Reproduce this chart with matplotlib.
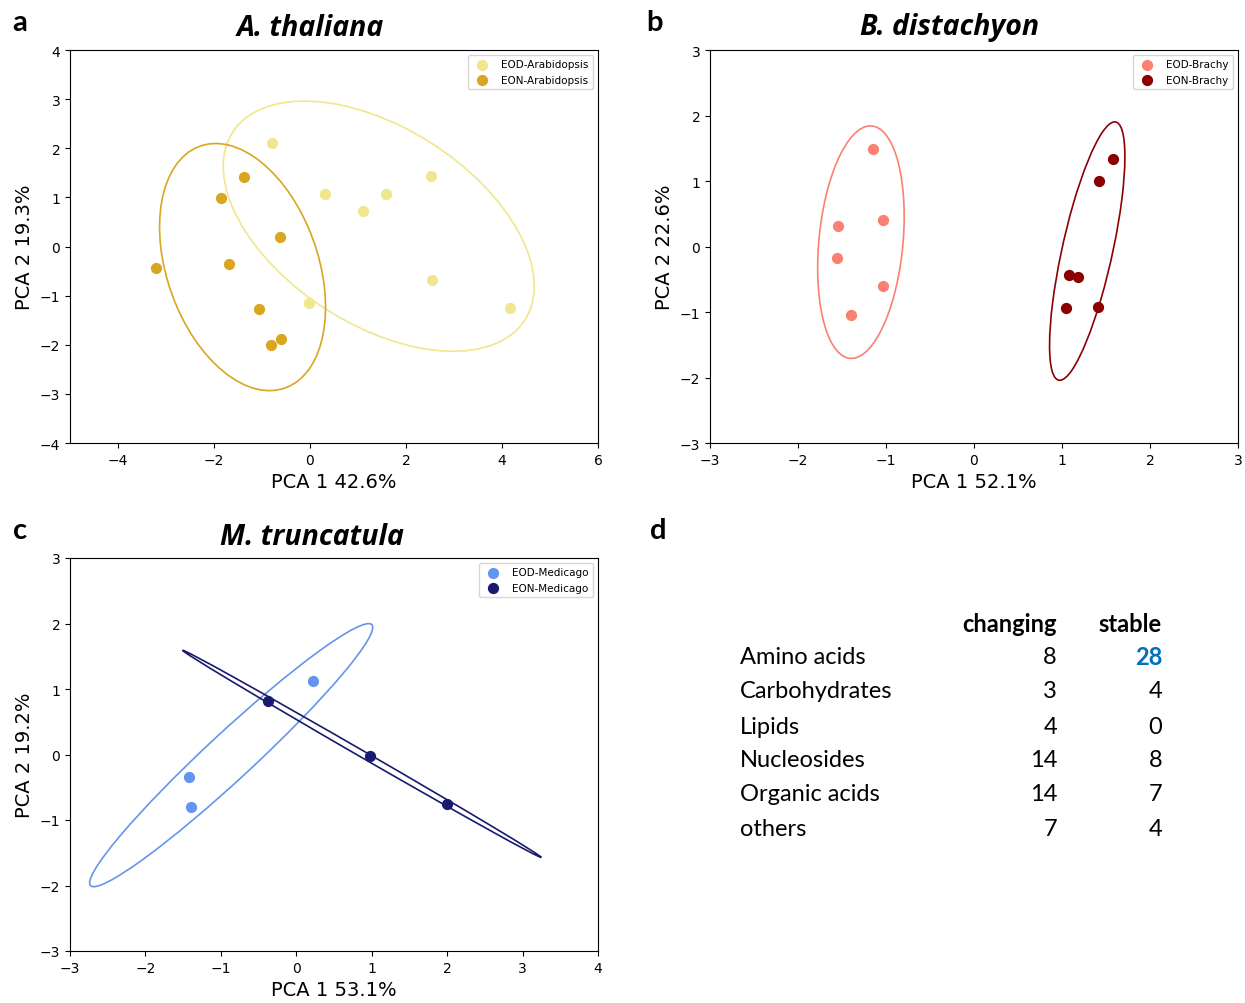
import numpy as np
import matplotlib
matplotlib.use("Agg")
import matplotlib.pyplot as plt
from matplotlib.patches import Ellipse
import matplotlib.transforms as transforms

# ---------------- data ----------------
# A. thaliana
ath_eod_x = [-0.79, 0.32, 1.10, 1.59, 2.53, 2.55, 4.17, -0.02]
ath_eod_y = [2.11, 1.06, 0.73, 1.07, 1.44, -0.69, -1.26, -1.15]
ath_eon_x = [-3.21, -1.85, -1.38, -0.63, -1.68, -1.07, -0.61, -0.81]
ath_eon_y = [-0.44, 0.98, 1.42, 0.19, -0.35, -1.27, -1.88, -2.00]

# B. distachyon
bd_eod_x = [-1.15, -1.54, -1.03, -1.56, -1.03, -1.40]
bd_eod_y = [1.49, 0.32, 0.41, -0.18, -0.60, -1.04]
bd_eon_x = [1.58, 1.42, 1.08, 1.18, 1.05, 1.41]
bd_eon_y = [1.33, 1.00, -0.43, -0.46, -0.94, -0.92]

# M. truncatula
mt_eod_x = [0.22, -1.42, -1.39]
mt_eod_y = [1.12, -0.35, -0.80]
mt_eon_x = [-0.37, 0.98, 2.00]
mt_eon_y = [0.82, -0.03, -0.76]

# labels
titles = ["A. thaliana", "B. distachyon", "M. truncatula"]
xlabels = ["PCA 1 42.6%", "PCA 1 52.1%", "PCA 1 53.1%"]
ylabels = ["PCA 2 19.3%", "PCA 2 22.6%", "PCA 2 19.2%"]
legend_labels = [("EOD-Arabidopsis", "EON-Arabidopsis"),
                 ("EOD-Brachy", "EON-Brachy"),
                 ("EOD-Medicago", "EON-Medicago")]
colors = [("khaki", "goldenrod"), ("salmon", "darkred"),
          ("cornflowerblue", "midnightblue")]

# table
table_cols = ["changing", "stable"]
table_rows = ["Amino acids", "Carbohydrates", "Lipids", "Nucleosides",
              "Organic acids", "others"]
changing = [8, 3, 4, 14, 14, 7]
stable = [28, 4, 0, 8, 7, 4]

# ---------------- helpers ----------------
def confidence_ellipse(x, y, ax, n_std=2.0, **kw):
    x = np.asarray(x); y = np.asarray(y)
    cov = np.cov(x, y)
    pearson = cov[0, 1] / np.sqrt(cov[0, 0] * cov[1, 1])
    rx = np.sqrt(1 + pearson)
    ry = np.sqrt(1 - pearson)
    ell = Ellipse((0, 0), width=rx * 2, height=ry * 2, facecolor="none", **kw)
    sx = np.sqrt(cov[0, 0]) * n_std
    sy = np.sqrt(cov[1, 1]) * n_std
    tr = transforms.Affine2D().rotate_deg(45).scale(sx, sy).translate(np.mean(x), np.mean(y))
    ell.set_transform(tr + ax.transData)
    ax.add_patch(ell)

W, H = 1245, 1004
fig = plt.figure(figsize=(W / 100, H / 100), dpi=100)

def px_axes(left, top, right, bottom):
    return fig.add_axes([left / W, 1 - bottom / H, (right - left) / W, (bottom - top) / H])

axes = [px_axes(70, 51, 598, 444), px_axes(710, 51, 1238, 444), px_axes(70, 559, 598, 952)]
data = [((ath_eod_x, ath_eod_y), (ath_eon_x, ath_eon_y)),
        ((bd_eod_x, bd_eod_y), (bd_eon_x, bd_eon_y)),
        ((mt_eod_x, mt_eod_y), (mt_eon_x, mt_eon_y))]
lims = [((-5, 6), (-4, 4)), ((-3, 3), (-3, 3)), ((-3, 4), (-3, 3))]
xticks = [[-4, -2, 0, 2, 4, 6], [-3, -2, -1, 0, 1, 2, 3], [-3, -2, -1, 0, 1, 2, 3, 4]]
yticks = [[-4, -3, -2, -1, 0, 1, 2, 3, 4], [-3, -2, -1, 0, 1, 2, 3], [-3, -2, -1, 0, 1, 2, 3]]

for i, ax in enumerate(axes):
    for j, (xs, ys) in enumerate(data[i]):
        c = colors[i][j]
        ax.scatter(xs, ys, s=50, color=c, label=legend_labels[i][j], zorder=3)
        confidence_ellipse(xs, ys, ax, n_std=2.0, edgecolor=c, linewidth=1.2)
    ax.set_xlim(*lims[i][0]); ax.set_ylim(*lims[i][1])
    ax.set_xticks(xticks[i]); ax.set_yticks(yticks[i])
    ax.set_xlabel(xlabels[i], fontsize=14)
    ax.set_ylabel(ylabels[i], fontsize=14)
    ax.legend(loc="upper right", fontsize=7.5, handletextpad=0.8, borderpad=0.4)

title_font = dict(family="Open Sans", weight="bold", style="italic", fontsize=20.5)
fig.text(310 / W, 1 - 28 / H, titles[0], ha="center", va="center", **title_font)
fig.text(950 / W, 1 - 28 / H, titles[1], ha="center", va="center", **title_font)
fig.text(312 / W, 1 - 538 / H, titles[2], ha="center", va="center", **title_font)

letter_font = dict(family="Lato", weight="bold", fontsize=21)
for lab, (x, y) in zip("abcd", [(20, 23), (654, 23), (20, 531), (658, 531)]):
    fig.text(x / W, 1 - y / H, lab, ha="center", va="center", **letter_font)

# table panel d
tfont = dict(family="Lato", fontsize=17)
col_right = [1057, 1162]
fig.text(col_right[0] / W, 1 - 625 / H, table_cols[0], ha="right", va="center", weight="bold", **tfont)
fig.text(col_right[1] / W, 1 - 625 / H, table_cols[1], ha="right", va="center", weight="bold", **tfont)
row_y = [658, 692, 727, 761, 795, 829]
for name, ch, st, y in zip(table_rows, changing, stable, row_y):
    fig.text(740 / W, 1 - y / H, name, ha="left", va="center", **tfont)
    fig.text(col_right[0] / W, 1 - y / H, str(ch), ha="right", va="center", **tfont)
    if st == max(stable):
        fig.text(col_right[1] / W, 1 - y / H, str(st), ha="right", va="center",
                 color="#0070C0", weight="bold", **tfont)
    else:
        fig.text(col_right[1] / W, 1 - y / H, str(st), ha="right", va="center", **tfont)

fig.savefig("out.png", dpi=100)
